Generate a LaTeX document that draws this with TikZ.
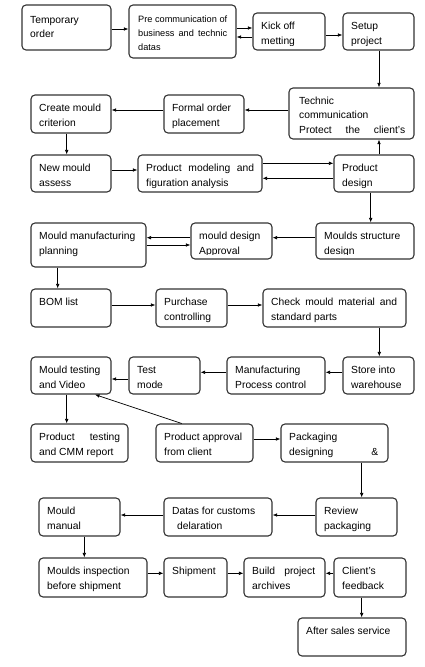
\documentclass[tikz,border=0pt]{standalone}
\usepackage{fontspec}
\setmainfont{Liberation Sans}
\usetikzlibrary{arrows.meta,fit}
\tikzset{
  box/.style={draw=black!80, line width=1.1pt, rounded corners=4pt, inner sep=0pt, fill=white},
  txt/.style={anchor=north west, inner sep=0pt, align=left, font=\fontsize{10.3}{14.5}\selectfont},
  arr/.style={-{Latex[length=4.5pt,width=3.6pt]}, line width=0.7pt},
}
\def\cinset{5}
% [text options]{name}{x1}{y1}{x2}{y2}{text}
\newcommand{\flowbox}[7][]{%
  \node[box, fit={(#3,#4) (#5,#6)}] (#2) {};
  \begin{scope}
    \clip (#3+1,#4+1) rectangle (#5-1,#6-\cinset);
    \node[txt,#1] at (#3+8,#4+6.35) {\strut#7};
  \end{scope}}
\begin{document}
\begin{tikzpicture}[x=1pt,y=-1pt]
\useasboundingbox[fill=white] (0,0) rectangle (425,667);
% row 1
\flowbox[yshift=-1.5pt]{tmp}{22}{5}{111}{50}{Temporary\\order}
\def\cinset{9}
\flowbox[font=\fontsize{9.2}{14}\selectfont, xshift=1pt, yshift=-1.5pt]{pre}{129}{5}{236}{58}{\makebox[89pt][s]{Pre communication of}\\\makebox[89pt][s]{business and technic}\\datas}
\def\cinset{5}
\flowbox{kick}{253}{13}{325}{50}{Kick off\\metting}
\flowbox{setup}{343}{13}{414}{50}{Setup\\project}
% row 2
\flowbox[xshift=2pt,yshift=0.5pt]{tech}{289}{88}{414}{139}{Technic\\communication\\\makebox[106pt][s]{Protect the client's}}
\flowbox{formal}{164}{95}{244}{133}{Formal order\\placement}
\flowbox{create}{31}{95}{111}{133}{Create mould\\criterion}
% row 3
\flowbox{newm}{31}{155}{111}{192}{New mould\\assess}
\flowbox{model}{138}{155}{262}{192}{\makebox[108pt][s]{Product modeling and}\\figuration analysis}
\flowbox{pdes}{334}{155}{414}{192}{Product\\design}
% row 4
\flowbox{mplan}{31}{223}{146}{267}{Mould manufacturing\\planning}
\flowbox{mappr}{191}{223}{272}{259}{mould design\\Approval}
\flowbox{mstruct}{316}{223}{414}{259}{Moulds structure\\design}
% row 5
\flowbox{bom}{31}{289}{111}{327}{BOM list}
\flowbox{purch}{156}{289}{227}{327}{Purchase\\controlling}
\flowbox{check}{263}{289}{406}{327}{\makebox[126pt][s]{Check mould material and}\\standard parts}
% row 6
\flowbox{mtest}{31}{357}{111}{394}{Mould testing\\and Video}
\flowbox{testm}{129}{357}{200}{394}{Test\\mode}
\flowbox{mproc}{227}{357}{325}{394}{Manufacturing\\Process control}
\flowbox{store}{343}{357}{414}{394}{Store into\\warehouse}
% row 7
\flowbox{ptest}{31}{424}{128}{462}{\makebox[81pt][s]{Product testing}\\and CMM report}
\flowbox{approv}{156}{424}{253}{462}{Product approval\\from client}
\flowbox{pack}{281}{424}{388}{462}{Packaging\\\makebox[89pt][s]{designing \hfill \&}}
% row 8
\flowbox{manual}{39}{498}{120}{536}{Mould\\manual}
\flowbox{datas}{164}{498}{272}{536}{Datas for customs\\\hspace*{5pt}delaration}
\flowbox{review}{316}{498}{397}{536}{Review\\packaging}
% row 9
\flowbox{insp}{39}{558}{147}{597}{Moulds inspection\\before shipment}
\flowbox{ship}{164}{558}{227}{597}{Shipment}
\flowbox{build}{244}{558}{325}{597}{\makebox[63pt][s]{Build project}\\archives}
\flowbox{feed}{334}{558}{406}{597}{Client's\\feedback}
% row 10
\flowbox{after}{298}{618}{406}{656}{After sales service}
% connectors
\draw[arr] (tmp.east |- 0,29) -- (pre.west |- 0,29);
\draw[arr] (pre.east |- 0,28) -- (kick.west |- 0,28);
\draw[arr] (kick.west |- 0,37) -- (pre.east |- 0,37);
\draw[arr] (kick.east |- 0,35) -- (setup.west |- 0,35);
\draw[arr] (setup.south -| 379,0) -- (tech.north -| 379,0);
\draw[arr] (tech.west |- 0,110) -- (formal.east |- 0,110);
\draw[arr] (formal.west |- 0,110) -- (create.east |- 0,110);
\draw[arr] (create.south -| 66.7,0) -- (newm.north -| 66.7,0);
\draw[arr] (newm.east |- 0,170) -- (model.west |- 0,170);
\draw[arr] (model.east |- 0,163.3) -- (pdes.west |- 0,163.3);
\draw[arr] (pdes.west |- 0,178.3) -- (model.east |- 0,178.3);
\draw[arr] (pdes.north -| 379,0) -- (tech.south -| 379,0);
\draw[arr] (pdes.south -| 370.7,0) -- (mstruct.north -| 370.7,0);
\draw[arr] (mstruct.west |- 0,237.7) -- (mappr.east |- 0,237.7);
\draw[arr] (mappr.west |- 0,237.7) -- (mplan.east |- 0,237.7);
\draw[arr] (mplan.east |- 0,245) -- (mappr.west |- 0,245);
\draw[arr] (mplan.south -| 57.7,0) -- (bom.north -| 57.7,0);
\draw[arr] (bom.east |- 0,305) -- (purch.west |- 0,305);
\draw[arr] (purch.east |- 0,305) -- (check.west |- 0,305);
\draw[arr] (check.south -| 379.3,0) -- (store.north -| 379.3,0);
\draw[arr] (store.west |- 0,372.3) -- (mproc.east |- 0,372.3);
\draw[arr] (mproc.west |- 0,372.3) -- (testm.east |- 0,372.3);
\draw[arr] (testm.west |- 0,379) -- (mtest.east |- 0,379);
\draw[arr] (mtest.south -| 66.7,0) -- (ptest.north -| 66.7,0);
\draw[arr] (approv.north -| 181.7,0) -- (mtest.south -| 95,0);
\draw[arr] (approv.east |- 0,439) -- (pack.west |- 0,439);
\draw[arr] (pack.south -| 361.7,0) -- (review.north -| 361.7,0);
\draw[arr] (review.west |- 0,515) -- (datas.east |- 0,515);
\draw[arr] (datas.west |- 0,515) -- (manual.east |- 0,515);
\draw[arr] (manual.south -| 84.3,0) -- (insp.north -| 84.3,0);
\draw[arr] (insp.east |- 0,573.3) -- (ship.west |- 0,573.3);
\draw[arr] (ship.east |- 0,573.3) -- (build.west |- 0,573.3);
\draw[arr] (feed.west |- 0,573.3) -- (build.east |- 0,573.3);
\draw[arr] (feed.south -| 361.7,0) -- (after.north -| 361.7,0);
\end{tikzpicture}
\end{document}
